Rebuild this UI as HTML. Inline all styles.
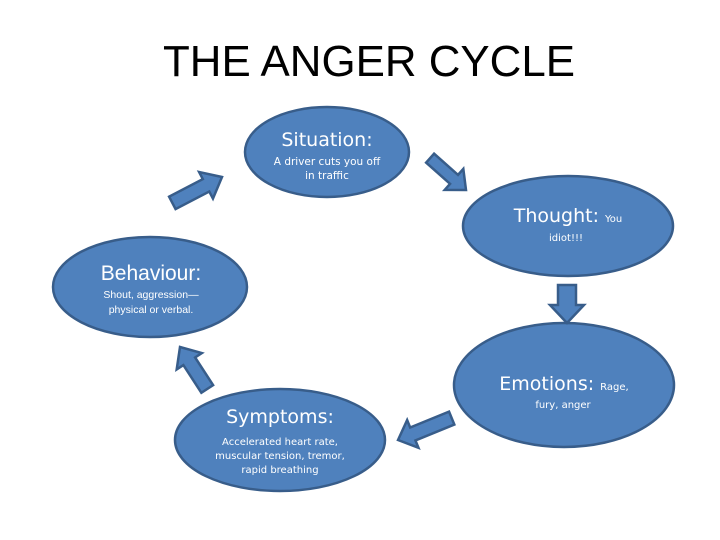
<!DOCTYPE html>
<html><head><meta charset="utf-8"><style>
html,body{margin:0;padding:0;background:#fff;}
svg{display:block;}
text{font-family:"Liberation Sans",sans-serif;fill:#fff;}
.c{font-family:"DejaVu Sans","Liberation Sans",sans-serif;}
</style></head><body>
<svg width="720" height="540" viewBox="0 0 720 540">
<defs>
<polygon id="ar" points="0,-7 -16,-7 -16,-15 0,0 -16,15 -16,7 0,7" />
</defs>
<text x="369" y="76" text-anchor="middle" font-size="44" textLength="412" lengthAdjust="spacingAndGlyphs" style="fill:#000">THE ANGER CYCLE</text>
<g fill="#4f81bd" stroke="#385d8a" stroke-width="2.5">
<ellipse cx="327" cy="152" rx="82" ry="45"/>
<ellipse cx="568" cy="226" rx="105" ry="50"/>
<ellipse cx="564" cy="385" rx="110" ry="62"/>
<ellipse cx="150" cy="287" rx="97" ry="50"/>
<ellipse cx="280" cy="440" rx="105" ry="51"/>
<!-- arrows: tail to tip -->
<polygon transform="translate(222,177) rotate(-27.5)" points="0,0 -18,-15 -18,-7 -56,-7 -56,7 -18,7 -18,15"/>
<polygon transform="translate(466,190) rotate(41.6)" points="0,0 -16,-14 -16,-6 -48,-6 -48,6 -16,6 -16,14"/>
<polygon transform="translate(567,323) rotate(90)" points="0,0 -18,-17 -18,-9 -38,-9 -38,9 -18,9 -18,17"/>
<polygon transform="translate(398,440) rotate(157.8)" points="0,0 -16,-15 -16,-7 -58,-7 -58,7 -16,7 -16,15"/>
<polygon transform="translate(180,347) rotate(237)" points="0,0 -17,-15 -17,-7 -50,-7 -50,7 -17,7 -17,15"/>
</g>
<text class="c" x="327" y="146" text-anchor="middle" font-size="19">Situation:</text>
<text class="c" x="327" y="165" text-anchor="middle" font-size="10.5">A driver cuts you off</text>
<text class="c" x="327" y="179" text-anchor="middle" font-size="10.5">in traffic</text>
<text class="c" x="568" y="222" text-anchor="middle" font-size="19">Thought: <tspan font-size="10">You</tspan></text>
<text class="c" x="566" y="241" text-anchor="middle" font-size="10">idiot!!!</text>
<text class="c" x="564" y="390" text-anchor="middle" font-size="19">Emotions: <tspan font-size="10">Rage,</tspan></text>
<text class="c" x="563" y="408" text-anchor="middle" font-size="10">fury,  anger</text>
<text x="151" y="280" text-anchor="middle" font-size="21">Behaviour:</text>
<text x="151" y="298" text-anchor="middle" font-size="10.5">Shout, aggression—</text>
<text x="151" y="313" text-anchor="middle" font-size="10.5">physical or verbal.</text>
<text class="c" x="280" y="423" text-anchor="middle" font-size="19">Symptoms:</text>
<text class="c" x="280" y="445" text-anchor="middle" font-size="10">Accelerated heart rate,</text>
<text class="c" x="280" y="459" text-anchor="middle" font-size="10">muscular tension, tremor,</text>
<text class="c" x="280" y="473" text-anchor="middle" font-size="10">rapid breathing</text>
</svg>
</body></html>
